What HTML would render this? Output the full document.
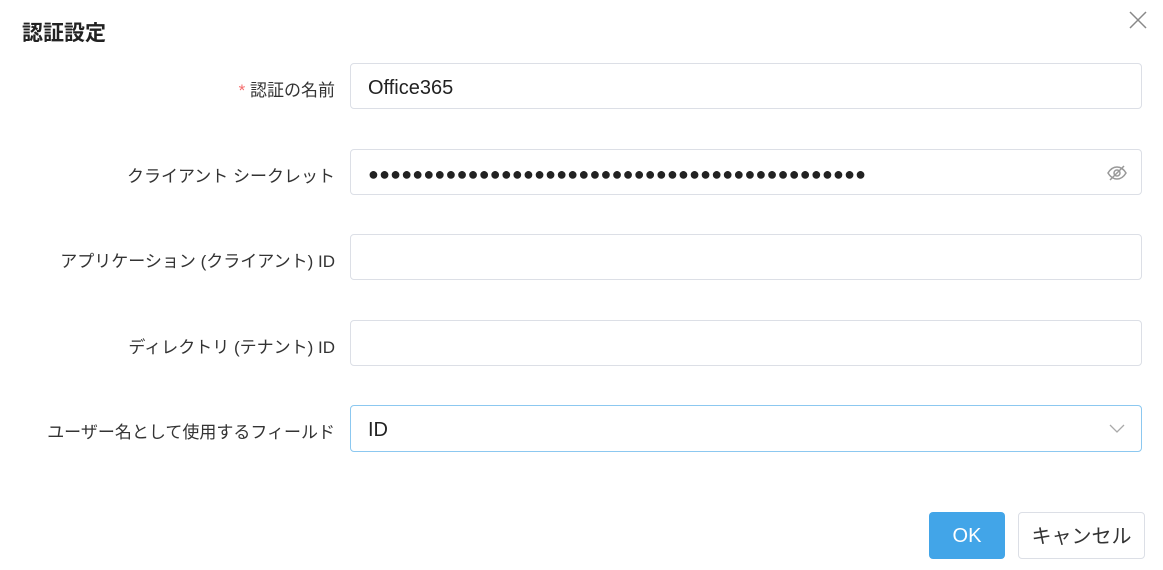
<!DOCTYPE html>
<html><head><meta charset="utf-8"><style>
body{margin:0;width:1163px;height:570px;background:#fff;position:relative;overflow:hidden;font-family:"Liberation Sans","Noto Sans CJK JP",sans-serif;color:#333}
.t{position:absolute;left:22px;top:17px;font-size:21px;font-weight:bold;color:#222}
.x{position:absolute;left:1128px;top:10px}
.l{position:absolute;right:828px;font-size:17px;color:#333;white-space:nowrap}
.i{position:absolute;left:350px;width:792px;height:46px;border:1px solid #dcdfe6;border-radius:4px;box-sizing:border-box;font-size:20px;color:#222;padding-left:17px;line-height:48px}
.b{position:absolute;top:512px;height:47px;border-radius:4px;box-sizing:border-box;font-size:20px;text-align:center;line-height:48px}
</style></head><body>
<div class="t">認証設定</div>
<svg class="x" width="20" height="20"><path d="M2 2l16 16M18 2L2 18" stroke="#888" stroke-width="1.5"/></svg>
<div class="l" style="top:76px"><span style="color:#f56c6c">* </span>認証の名前</div>
<div class="i" style="top:63px">Office365</div>
<div class="l" style="top:162px">クライアント シークレット</div>
<div class="i" style="top:149px;letter-spacing:0.2px;font-size:18px">●●●●●●●●●●●●●●●●●●●●●●●●●●●●●●●●●●●●●●●●●●●●●
<svg style="position:absolute;left:755px;top:14px" width="22" height="18" viewBox="0 0 22 18"><path d="M2 9C5 4 8 3 11 3s6 1 9 6c-3 5-6 6-9 6S5 14 2 9z" fill="none" stroke="#999" stroke-width="1.5"/><circle cx="11" cy="9" r="3" fill="none" stroke="#999" stroke-width="1.5"/><line x1="4" y1="16" x2="18" y2="2" stroke="#999" stroke-width="1.5"/></svg></div>
<div class="l" style="top:247px">アプリケーション (クライアント) ID</div>
<div class="i" style="top:234px"></div>
<div class="l" style="top:333px">ディレクトリ (テナント) ID</div>
<div class="i" style="top:320px"></div>
<div class="l" style="top:418px">ユーザー名として使用するフィールド</div>
<div class="i" style="top:405px;border-color:#8cc8f0;height:47px;line-height:49px">ID
<svg style="position:absolute;left:758px;top:18px" width="16" height="10"><path d="M1 1l7 7 7-7" fill="none" stroke="#aaa" stroke-width="1.3"/></svg></div>
<div class="b" style="left:929px;width:76px;background:#42a5e8;color:#fff">OK</div>
<div class="b" style="left:1018px;width:127px;border:1px solid #dcdfe6;color:#333">キャンセル</div>
</body></html>
